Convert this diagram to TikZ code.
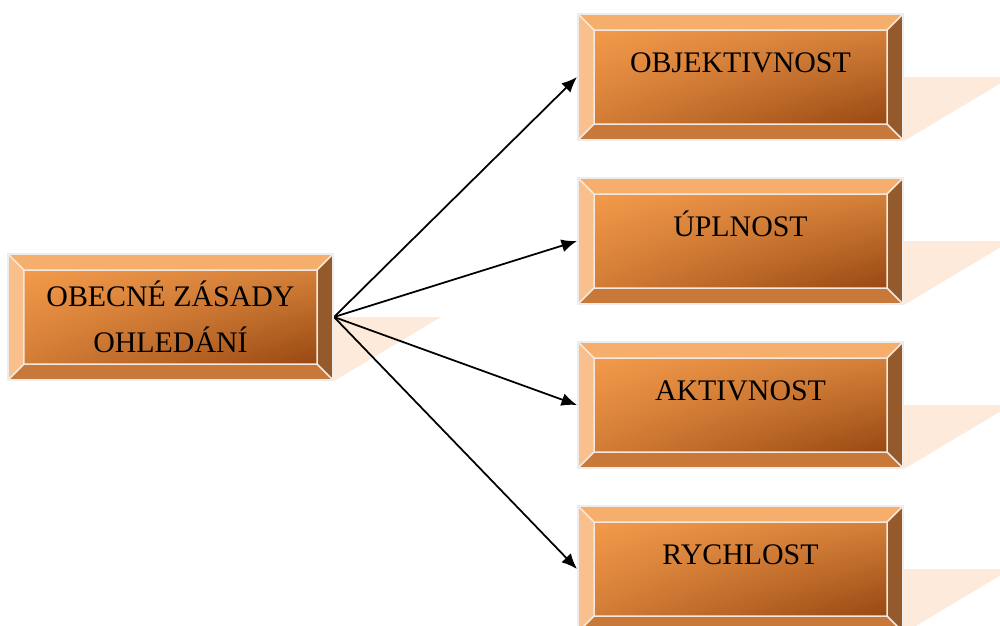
\documentclass[tikz,border=0pt]{standalone}
\usepackage{fontspec}
\setmainfont{Liberation Serif}
\usepackage{xcolor}
\usetikzlibrary{arrows.meta,backgrounds,shadings}

\definecolor{boxrim}{HTML}{EDEDED}
\definecolor{bevtop}{HTML}{F6AE6C}
\definecolor{bevleft}{HTML}{F9BF8C}
\definecolor{bevbottom}{HTML}{C8793A}
\definecolor{bevright}{HTML}{955A2B}
\definecolor{faceul}{HTML}{F39A4A}
\definecolor{faceur}{HTML}{D4803A}
\definecolor{facell}{HTML}{D27C36}
\definecolor{facelr}{HTML}{984812}
\definecolor{bevlinecol}{HTML}{F3E9E0}
\definecolor{shadowpeach}{HTML}{FDEADB}

\begin{document}
\begin{tikzpicture}[x=0.2mm, y=-0.2mm,
        bevline/.style = {draw=bevlinecol, line width=0.3mm},
        bevelbox/.style = {minimum width=65mm, minimum height=25.2mm, inner sep=0pt,
            font=\fontsize{17}{26}\selectfont, align=center,
            draw=boxrim, line width=0.4mm,
            path picture={
                \coordinate (tl) at (path picture bounding box.north west);
                \coordinate (tr) at (path picture bounding box.north east);
                \coordinate (bl) at (path picture bounding box.south west);
                \coordinate (br) at (path picture bounding box.south east);
                \coordinate (itl) at ([shift={(16,16)}]tl);
                \coordinate (itr) at ([shift={(-16,16)}]tr);
                \coordinate (ibl) at ([shift={(16,-16)}]bl);
                \coordinate (ibr) at ([shift={(-16,-16)}]br);
                \fill[bevtop]    (tl) -- (tr) -- (itr) -- (itl) -- cycle;
                \fill[bevleft]   (tl) -- (itl) -- (ibl) -- (bl) -- cycle;
                \fill[bevbottom] (bl) -- (ibl) -- (ibr) -- (br) -- cycle;
                \fill[bevright]  (tr) -- (br) -- (ibr) -- (itr) -- cycle;
                \shade[upper left=faceul, upper right=faceur,
                       lower left=facell, lower right=facelr] (itl) rectangle (ibr);
                \draw[bevline] (itl) rectangle (ibr)
                    (tl) -- (itl) (tr) -- (itr) (bl) -- (ibl) (br) -- (ibr);
            }},
        topped/.style = {text height=12pt, text depth=17.6pt},
        boxshadow/.style = {fill=shadowpeach},
        link/.style = {draw, line width=1pt, -{Latex[length=3.1mm,width=2.6mm]}}
        ]
    \useasboundingbox (0,0) rectangle (1000,625);

    \node[bevelbox] (zasady) at (170.5,317) {OBECNÉ ZÁSADY\\OHLEDÁNÍ};

    \node[bevelbox,topped] (objekt)   at (740.5,77)  {OBJEKTIVNOST};
    \node[bevelbox,topped] (uplnost)  at (740.5,241) {ÚPLNOST};
    \node[bevelbox,topped] (aktiv)    at (740.5,405) {AKTIVNOST};
    \node[bevelbox,topped] (rychlost) at (740.5,569) {RYCHLOST};

    \begin{scope}[on background layer]
        % shadows
        \foreach \b in {zasady,objekt,uplnost,aktiv,rychlost}
            \fill[boxshadow] (\b.east) -- ++(107,0) -- (\b.south east) -- cycle;

        \draw[link] (zasady.east) -- (objekt.west);
        \draw[link] (zasady.east) -- (uplnost.west);
        \draw[link] (zasady.east) -- (aktiv.west);
        \draw[link] (zasady.east) -- (rychlost.west);
    \end{scope}
\end{tikzpicture}
\end{document}
